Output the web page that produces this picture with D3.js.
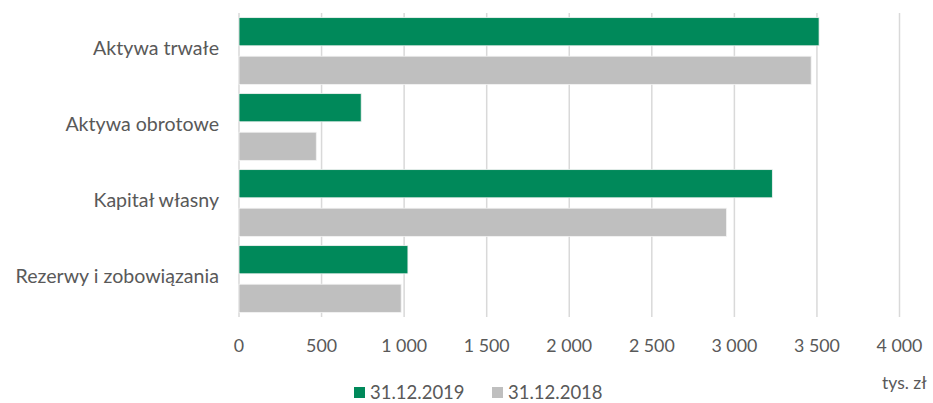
<!DOCTYPE html>
<html>
<head>
<meta charset="utf-8">
<script src="https://cdn.jsdelivr.net/npm/d3@7"></script>
<style>
  html, body { margin: 0; padding: 0; background: #fff; overflow: hidden; }
  svg text { font-family: Lato, "Open Sans", sans-serif; fill: #595959; }
</style>
</head>
<body>
<svg id="chart" width="933" height="403"></svg>
<script>
const categories = ["Aktywa trwałe", "Aktywa obrotowe", "Kapitał własny", "Rezerwy i zobowiązania"];
const seriesNames = ["31.12.2019", "31.12.2018"];
const values2019 = [3513, 740, 3230, 1023];
const values2018 = [3465, 468, 2952, 982];
const tickValues = [0, 500, 1000, 1500, 2000, 2500, 3000, 3500, 4000];
const colors = ["#00895A", "#BFBFBF"];
const unitLabel = "tys. zł";

const svg = d3.select("#chart");
const plotTop = 13, plotBottom = 317, plotLeft = 239, plotRight = 899.5;

const x = d3.scaleLinear().domain([0, 4000]).range([plotLeft, plotRight]);
const y = d3.scaleBand().domain(categories).range([plotTop, plotBottom]);
const inner = d3.scaleBand().domain(seriesNames).range([0, y.bandwidth()]).paddingInner(0.27).paddingOuter(0.12);

const fmt = v => d3.format(",")(v).replace(/,/g, "\u00a0");

// vertical gridlines
svg.append("g").selectAll("line").data(tickValues).join("line")
  .attr("x1", d => x(d)).attr("x2", d => x(d))
  .attr("y1", plotTop).attr("y2", plotBottom)
  .attr("stroke", "#d9d9d9").attr("stroke-width", 1.5);

// bars, one group per category
const rows = categories.map((c, i) => ({ cat: c, vals: [values2019[i], values2018[i]] }));
const g = svg.append("g").selectAll("g").data(rows).join("g")
  .attr("transform", d => `translate(0,${y(d.cat)})`);
g.selectAll("rect").data(d => d.vals.map((v, j) => ({ v, s: seriesNames[j], j })))
  .join("rect")
  .attr("x", x(0))
  .attr("y", d => inner(d.s))
  .attr("width", d => x(d.v) - x(0))
  .attr("height", inner.bandwidth())
  .attr("fill", d => colors[d.j])
  .attr("stroke", "#f2f2f2").attr("stroke-width", 0.8);

// category labels
svg.append("g").selectAll("text").data(categories).join("text")
  .attr("x", 219)
  .attr("y", d => y(d) + y.bandwidth() / 2 - 1)
  .attr("text-anchor", "end")
  .attr("dominant-baseline", "middle")
  .attr("font-size", 19.6)
  .text(d => d);

// x tick labels
svg.append("g").selectAll("text").data(tickValues).join("text")
  .attr("x", d => x(d))
  .attr("y", 352)
  .attr("text-anchor", "middle")
  .attr("font-size", 17.8)
  .text(d => fmt(d));

// unit label
svg.append("text").attr("x", 882).attr("y", 389).attr("font-size", 17.5).text(unitLabel);

// legend
const legend = svg.append("g");
const legendX = [354, 492];
seriesNames.forEach((s, i) => {
  legend.append("rect").attr("x", legendX[i]).attr("y", 387).attr("width", 11).attr("height", 11).attr("fill", colors[i]);
  legend.append("text").attr("x", legendX[i] + 16).attr("y", 398.5).attr("font-size", 18.5).text(s);
});
</script>
</body>
</html>
